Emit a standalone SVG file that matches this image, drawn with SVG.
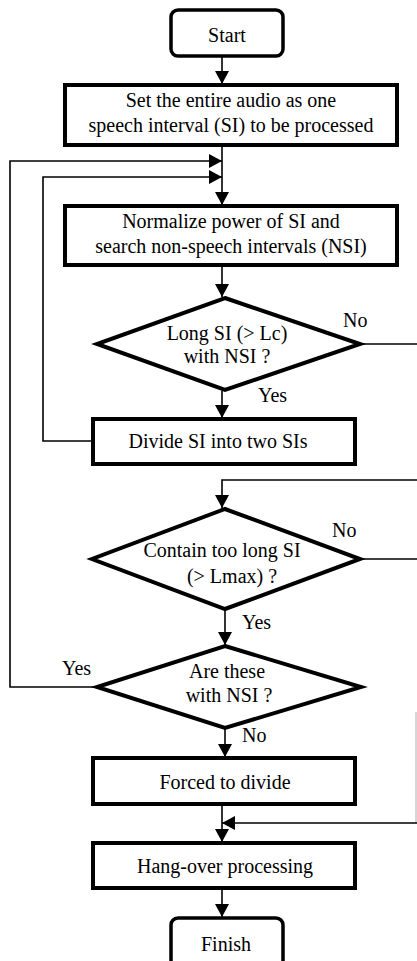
<svg xmlns="http://www.w3.org/2000/svg" width="417" height="961" viewBox="0 0 417 961">
<style>
.box{fill:#fff;stroke:#000;stroke-width:4}
.term{fill:#fff;stroke:#000;stroke-width:3.5}
.ln{fill:none;stroke:#000;stroke-width:1.6}
.c{text-anchor:middle}
</style>
<defs>
<marker id="ah" markerUnits="userSpaceOnUse" markerWidth="14" markerHeight="14" viewBox="0 0 14 14" refX="13" refY="7" orient="auto">
<path d="M0,0 L13,7 L0,14 Z" fill="#000"/>
</marker>
</defs>
<g id="connectors">
<line class="ln" x1="222" y1="56" x2="222" y2="84" marker-end="url(#ah)"/>
<line class="ln" x1="222" y1="146" x2="222" y2="205" marker-end="url(#ah)"/>
<polyline class="ln" points="97,687 10,687 10,161 222,161" marker-end="url(#ah)"/>
<polyline class="ln" points="92,441 43,441 43,177 222,177" marker-end="url(#ah)"/>
<line class="ln" x1="222" y1="265" x2="222" y2="297" marker-end="url(#ah)"/>
<line class="ln" x1="222" y1="391" x2="222" y2="418" marker-end="url(#ah)"/>
<polyline class="ln" points="360,344 417,344"/>
<polyline class="ln" points="417,480 222,480 222,508" marker-end="url(#ah)"/>
<polyline class="ln" points="360,559 417,559"/>
<line class="ln" x1="225" y1="610" x2="225" y2="645" marker-end="url(#ah)"/>
<line class="ln" x1="225" y1="729" x2="225" y2="757" marker-end="url(#ah)"/>
<line class="ln" x1="222" y1="804" x2="222" y2="842" marker-end="url(#ah)"/>
<line x1="416" y1="712" x2="416" y2="823" stroke="#bbb" stroke-width="1.2"/>
<polyline class="ln" points="417,823 222,823" marker-end="url(#ah)"/>
<line class="ln" x1="222" y1="888" x2="222" y2="917" marker-end="url(#ah)"/>
</g>
<g font-family="Liberation Serif, Times New Roman, serif" font-size="20" fill="#000">
<g id="start">
<rect class="term" x="171" y="10" width="112" height="46" rx="7"/>
<text class="c" x="227" y="42">Start</text>
</g>
<g id="set-audio">
<rect class="box" x="65" y="85" width="332" height="60"/>
<text class="c" x="231" y="107">Set the entire audio as one</text>
<text class="c" x="231" y="132">speech interval (SI) to be processed</text>
</g>
<g id="normalize">
<rect class="box" x="65" y="206" width="332" height="59"/>
<text class="c" x="231" y="228">Normalize power of SI and</text>
<text class="c" x="231" y="253">search non-speech intervals (NSI)</text>
</g>
<g id="long-si">
<polygon class="box" points="225,298 360,344 225,390 97,344"/>
<text class="c" x="227" y="340">Long SI (&gt; Lc)</text>
<text class="c" x="227" y="363">with NSI ?</text>
<text x="343" y="327">No</text>
<text x="258" y="402">Yes</text>
</g>
<g id="divide">
<rect class="box" x="93" y="419" width="262" height="45"/>
<text class="c" x="218" y="448">Divide SI into two SIs</text>
</g>
<g id="too-long">
<polygon class="box" points="225,509 360,559 225,609 92,559"/>
<text class="c" x="222" y="557">Contain too long SI</text>
<text class="c" x="232" y="583">(&gt; Lmax) ?</text>
<text x="332" y="537">No</text>
<text x="242" y="629">Yes</text>
</g>
<g id="with-nsi">
<polygon class="box" points="225,646 361,687 225,728 97,687"/>
<text class="c" x="227" y="678">Are these</text>
<text class="c" x="229" y="702">with NSI ?</text>
<text x="62" y="675">Yes</text>
<text x="242" y="742">No</text>
</g>
<g id="forced">
<rect class="box" x="93" y="758" width="262" height="46"/>
<text class="c" x="225" y="789">Forced to divide</text>
</g>
<g id="hangover">
<rect class="box" x="93" y="843" width="262" height="45"/>
<text class="c" x="225" y="873">Hang-over processing</text>
</g>
<g id="finish">
<rect class="term" x="171" y="918" width="112" height="50" rx="7"/>
<text class="c" x="226" y="951">Finish</text>
</g>
</g>
</svg>
